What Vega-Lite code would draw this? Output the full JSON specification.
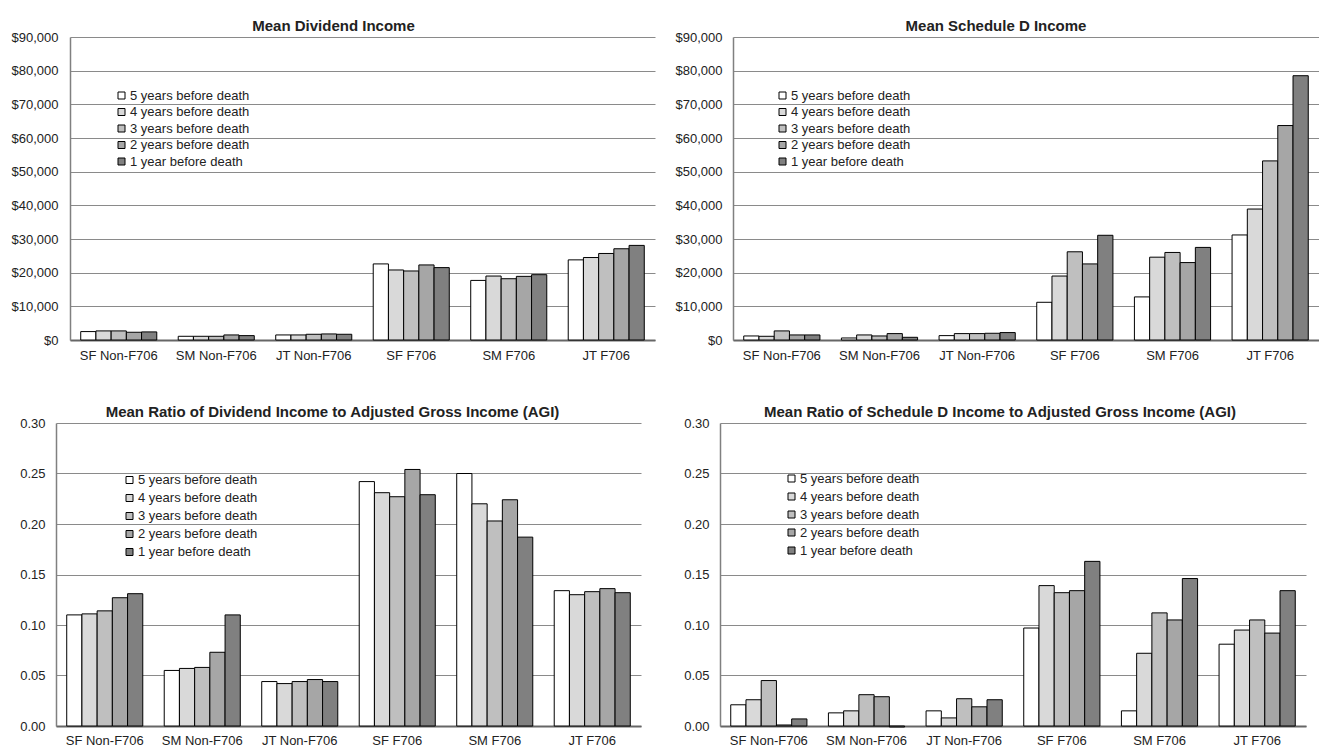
{
  "$schema": "https://vega.github.io/schema/vega-lite/v6.json",
  "padding": {"left": 0, "top": 19, "right": 0, "bottom": 0},
  "background": "white",
  "config": {
    "font": "Liberation Sans",
    "view": {"stroke": null},
    "title": {"font": "Liberation Sans", "fontSize": 15, "fontWeight": "bold", "color": "#222222", "offset": -3, "anchor": "middle"},
    "axis": {"labelFont": "Liberation Sans", "labelFontSize": 13, "labelColor": "#222222", "ticks": false, "title": null},
    "legend": {"labelFont": "Liberation Sans", "labelFontSize": 13, "labelColor": "#222222", "symbolType": "square", "symbolSize": 49, "symbolStrokeColor": "black", "symbolStrokeWidth": 1, "labelOffset": 2, "title": null, "orient": "none"}
  },
  "datasets": {
    "div": [
      {"c": "SF Non-F706", "y": "5 years before death", "v": 2500},
      {"c": "SF Non-F706", "y": "4 years before death", "v": 2700},
      {"c": "SF Non-F706", "y": "3 years before death", "v": 2700},
      {"c": "SF Non-F706", "y": "2 years before death", "v": 2300},
      {"c": "SF Non-F706", "y": "1 year before death", "v": 2400},
      {"c": "SM Non-F706", "y": "5 years before death", "v": 1100},
      {"c": "SM Non-F706", "y": "4 years before death", "v": 1100},
      {"c": "SM Non-F706", "y": "3 years before death", "v": 1100},
      {"c": "SM Non-F706", "y": "2 years before death", "v": 1500},
      {"c": "SM Non-F706", "y": "1 year before death", "v": 1300},
      {"c": "JT Non-F706", "y": "5 years before death", "v": 1500},
      {"c": "JT Non-F706", "y": "4 years before death", "v": 1500},
      {"c": "JT Non-F706", "y": "3 years before death", "v": 1700},
      {"c": "JT Non-F706", "y": "2 years before death", "v": 1800},
      {"c": "JT Non-F706", "y": "1 year before death", "v": 1700},
      {"c": "SF F706", "y": "5 years before death", "v": 22600},
      {"c": "SF F706", "y": "4 years before death", "v": 20800},
      {"c": "SF F706", "y": "3 years before death", "v": 20500},
      {"c": "SF F706", "y": "2 years before death", "v": 22300},
      {"c": "SF F706", "y": "1 year before death", "v": 21500},
      {"c": "SM F706", "y": "5 years before death", "v": 17700},
      {"c": "SM F706", "y": "4 years before death", "v": 19000},
      {"c": "SM F706", "y": "3 years before death", "v": 18200},
      {"c": "SM F706", "y": "2 years before death", "v": 18900},
      {"c": "SM F706", "y": "1 year before death", "v": 19400},
      {"c": "JT F706", "y": "5 years before death", "v": 23800},
      {"c": "JT F706", "y": "4 years before death", "v": 24500},
      {"c": "JT F706", "y": "3 years before death", "v": 25700},
      {"c": "JT F706", "y": "2 years before death", "v": 27100},
      {"c": "JT F706", "y": "1 year before death", "v": 28100}
    ],
    "schd": [
      {"c": "SF Non-F706", "y": "5 years before death", "v": 1200},
      {"c": "SF Non-F706", "y": "4 years before death", "v": 1100},
      {"c": "SF Non-F706", "y": "3 years before death", "v": 2700},
      {"c": "SF Non-F706", "y": "2 years before death", "v": 1500},
      {"c": "SF Non-F706", "y": "1 year before death", "v": 1500},
      {"c": "SM Non-F706", "y": "5 years before death", "v": 600},
      {"c": "SM Non-F706", "y": "4 years before death", "v": 1500},
      {"c": "SM Non-F706", "y": "3 years before death", "v": 1200},
      {"c": "SM Non-F706", "y": "2 years before death", "v": 1900},
      {"c": "SM Non-F706", "y": "1 year before death", "v": 800},
      {"c": "JT Non-F706", "y": "5 years before death", "v": 1300},
      {"c": "JT Non-F706", "y": "4 years before death", "v": 1900},
      {"c": "JT Non-F706", "y": "3 years before death", "v": 1900},
      {"c": "JT Non-F706", "y": "2 years before death", "v": 2000},
      {"c": "JT Non-F706", "y": "1 year before death", "v": 2200},
      {"c": "SF F706", "y": "5 years before death", "v": 11200},
      {"c": "SF F706", "y": "4 years before death", "v": 19000},
      {"c": "SF F706", "y": "3 years before death", "v": 26200},
      {"c": "SF F706", "y": "2 years before death", "v": 22600},
      {"c": "SF F706", "y": "1 year before death", "v": 31100},
      {"c": "SM F706", "y": "5 years before death", "v": 12800},
      {"c": "SM F706", "y": "4 years before death", "v": 24600},
      {"c": "SM F706", "y": "3 years before death", "v": 26000},
      {"c": "SM F706", "y": "2 years before death", "v": 23000},
      {"c": "SM F706", "y": "1 year before death", "v": 27500},
      {"c": "JT F706", "y": "5 years before death", "v": 31200},
      {"c": "JT F706", "y": "4 years before death", "v": 38900},
      {"c": "JT F706", "y": "3 years before death", "v": 53200},
      {"c": "JT F706", "y": "2 years before death", "v": 63700},
      {"c": "JT F706", "y": "1 year before death", "v": 78500}
    ],
    "divr": [
      {"c": "SF Non-F706", "y": "5 years before death", "v": 0.110},
      {"c": "SF Non-F706", "y": "4 years before death", "v": 0.111},
      {"c": "SF Non-F706", "y": "3 years before death", "v": 0.114},
      {"c": "SF Non-F706", "y": "2 years before death", "v": 0.127},
      {"c": "SF Non-F706", "y": "1 year before death", "v": 0.131},
      {"c": "SM Non-F706", "y": "5 years before death", "v": 0.055},
      {"c": "SM Non-F706", "y": "4 years before death", "v": 0.057},
      {"c": "SM Non-F706", "y": "3 years before death", "v": 0.058},
      {"c": "SM Non-F706", "y": "2 years before death", "v": 0.073},
      {"c": "SM Non-F706", "y": "1 year before death", "v": 0.110},
      {"c": "JT Non-F706", "y": "5 years before death", "v": 0.044},
      {"c": "JT Non-F706", "y": "4 years before death", "v": 0.042},
      {"c": "JT Non-F706", "y": "3 years before death", "v": 0.044},
      {"c": "JT Non-F706", "y": "2 years before death", "v": 0.046},
      {"c": "JT Non-F706", "y": "1 year before death", "v": 0.044},
      {"c": "SF F706", "y": "5 years before death", "v": 0.242},
      {"c": "SF F706", "y": "4 years before death", "v": 0.231},
      {"c": "SF F706", "y": "3 years before death", "v": 0.227},
      {"c": "SF F706", "y": "2 years before death", "v": 0.254},
      {"c": "SF F706", "y": "1 year before death", "v": 0.229},
      {"c": "SM F706", "y": "5 years before death", "v": 0.250},
      {"c": "SM F706", "y": "4 years before death", "v": 0.220},
      {"c": "SM F706", "y": "3 years before death", "v": 0.203},
      {"c": "SM F706", "y": "2 years before death", "v": 0.224},
      {"c": "SM F706", "y": "1 year before death", "v": 0.187},
      {"c": "JT F706", "y": "5 years before death", "v": 0.134},
      {"c": "JT F706", "y": "4 years before death", "v": 0.130},
      {"c": "JT F706", "y": "3 years before death", "v": 0.133},
      {"c": "JT F706", "y": "2 years before death", "v": 0.136},
      {"c": "JT F706", "y": "1 year before death", "v": 0.132}
    ],
    "schdr": [
      {"c": "SF Non-F706", "y": "5 years before death", "v": 0.021},
      {"c": "SF Non-F706", "y": "4 years before death", "v": 0.026},
      {"c": "SF Non-F706", "y": "3 years before death", "v": 0.045},
      {"c": "SF Non-F706", "y": "2 years before death", "v": 0.001},
      {"c": "SF Non-F706", "y": "1 year before death", "v": 0.007},
      {"c": "SM Non-F706", "y": "5 years before death", "v": 0.013},
      {"c": "SM Non-F706", "y": "4 years before death", "v": 0.015},
      {"c": "SM Non-F706", "y": "3 years before death", "v": 0.031},
      {"c": "SM Non-F706", "y": "2 years before death", "v": 0.029},
      {"c": "SM Non-F706", "y": "1 year before death", "v": -0.001},
      {"c": "JT Non-F706", "y": "5 years before death", "v": 0.015},
      {"c": "JT Non-F706", "y": "4 years before death", "v": 0.008},
      {"c": "JT Non-F706", "y": "3 years before death", "v": 0.027},
      {"c": "JT Non-F706", "y": "2 years before death", "v": 0.019},
      {"c": "JT Non-F706", "y": "1 year before death", "v": 0.026},
      {"c": "SF F706", "y": "5 years before death", "v": 0.097},
      {"c": "SF F706", "y": "4 years before death", "v": 0.139},
      {"c": "SF F706", "y": "3 years before death", "v": 0.132},
      {"c": "SF F706", "y": "2 years before death", "v": 0.134},
      {"c": "SF F706", "y": "1 year before death", "v": 0.163},
      {"c": "SM F706", "y": "5 years before death", "v": 0.015},
      {"c": "SM F706", "y": "4 years before death", "v": 0.072},
      {"c": "SM F706", "y": "3 years before death", "v": 0.112},
      {"c": "SM F706", "y": "2 years before death", "v": 0.105},
      {"c": "SM F706", "y": "1 year before death", "v": 0.146},
      {"c": "JT F706", "y": "5 years before death", "v": 0.081},
      {"c": "JT F706", "y": "4 years before death", "v": 0.095},
      {"c": "JT F706", "y": "3 years before death", "v": 0.105},
      {"c": "JT F706", "y": "2 years before death", "v": 0.092},
      {"c": "JT F706", "y": "1 year before death", "v": 0.134}
    ],
    "empty": []
  },
  "resolve": {"scale": {"x": "independent", "y": "independent", "color": "independent", "xOffset": "independent"}, "legend": {"color": "independent"}},
  "spacing": 43,
  "vconcat": [
    {
      "spacing": 10,
      "bounds": "flush",
      "resolve": {"scale": {"x": "independent", "y": "independent", "color": "independent", "xOffset": "independent"}, "legend": {"color": "independent"}},
      "hconcat": [
        {
          "width": 4, "height": 1,
          "data": {"name": "empty"},
          "mark": {"type": "rect"},
          "encoding": {}
        },
        {
          "spacing": 10,
          "resolve": {"scale": {"x": "independent", "y": "independent", "color": "independent", "xOffset": "independent"}, "legend": {"color": "independent"}},
          "hconcat": [
            {
              "width": 585, "height": 303,
              "title": {"text": "Mean Dividend Income", "dx": -29},
              "data": {"name": "div"},
              "mark": {"type": "bar", "stroke": "black", "strokeWidth": 1},
              "encoding": {
                "x": {"field": "c", "type": "nominal", "sort": ["SF Non-F706", "SM Non-F706", "JT Non-F706", "SF F706", "SM F706", "JT F706"], "scale": {"paddingInner": 0.22, "paddingOuter": 0.11}, "axis": {"labelAngle": 0, "labelPadding": 9, "domainColor": "#666666", "domainWidth": 2, "grid": false}},
                "xOffset": {"field": "y", "type": "nominal", "sort": ["5 years before death", "4 years before death", "3 years before death", "2 years before death", "1 year before death"], "scale": {"paddingInner": 0, "paddingOuter": 0}},
                "y": {"field": "v", "type": "quantitative", "scale": {"domain": [0, 90000], "nice": false}, "axis": {"values": [0, 10000, 20000, 30000, 40000, 50000, 60000, 70000, 80000, 90000], "format": "$,.0f", "minExtent": 70, "labelPadding": 12, "grid": true, "gridColor": "#8a8a8a", "gridWidth": 1, "domainColor": "#808080", "domainWidth": 1.5}},
                "color": {"field": "y", "type": "nominal", "sort": ["5 years before death", "4 years before death", "3 years before death", "2 years before death", "1 year before death"], "scale": {"domain": ["5 years before death", "4 years before death", "3 years before death", "2 years before death", "1 year before death"], "range": ["#ffffff", "#d9d9d9", "#bfbfbf", "#a6a6a6", "#808080"]}, "legend": {"legendX": 45, "legendY": 52, "rowPadding": 2.5}}
              }
            },
            {
              "width": 586, "height": 303,
              "title": {"text": "Mean Schedule D Income", "dx": -30},
              "data": {"name": "schd"},
              "mark": {"type": "bar", "stroke": "black", "strokeWidth": 1},
              "encoding": {
                "x": {"field": "c", "type": "nominal", "sort": ["SF Non-F706", "SM Non-F706", "JT Non-F706", "SF F706", "SM F706", "JT F706"], "scale": {"paddingInner": 0.22, "paddingOuter": 0.11}, "axis": {"labelAngle": 0, "labelPadding": 9, "domainColor": "#666666", "domainWidth": 2, "grid": false}},
                "xOffset": {"field": "y", "type": "nominal", "sort": ["5 years before death", "4 years before death", "3 years before death", "2 years before death", "1 year before death"], "scale": {"paddingInner": 0, "paddingOuter": 0}},
                "y": {"field": "v", "type": "quantitative", "scale": {"domain": [0, 90000], "nice": false}, "axis": {"values": [0, 10000, 20000, 30000, 40000, 50000, 60000, 70000, 80000, 90000], "format": "$,.0f", "minExtent": 68, "labelPadding": 11, "grid": true, "gridColor": "#8a8a8a", "gridWidth": 1, "domainColor": "#808080", "domainWidth": 1.5}},
                "color": {"field": "y", "type": "nominal", "sort": ["5 years before death", "4 years before death", "3 years before death", "2 years before death", "1 year before death"], "scale": {"domain": ["5 years before death", "4 years before death", "3 years before death", "2 years before death", "1 year before death"], "range": ["#ffffff", "#d9d9d9", "#bfbfbf", "#a6a6a6", "#808080"]}, "legend": {"legendX": 43, "legendY": 52, "rowPadding": 2.5}}
              }
            }
          ]
        }
      ]
    },
    {
      "spacing": 10,
      "resolve": {"scale": {"x": "independent", "y": "independent", "color": "independent", "xOffset": "independent"}, "legend": {"color": "independent"}},
      "hconcat": [
        {
          "width": 585, "height": 303,
          "title": {"text": "Mean Ratio of Dividend Income to Adjusted Gross Income (AGI)", "dx": -16},
          "data": {"name": "divr"},
          "mark": {"type": "bar", "stroke": "black", "strokeWidth": 1},
          "encoding": {
            "x": {"field": "c", "type": "nominal", "sort": ["SF Non-F706", "SM Non-F706", "JT Non-F706", "SF F706", "SM F706", "JT F706"], "scale": {"paddingInner": 0.22, "paddingOuter": 0.11}, "axis": {"labelAngle": 0, "labelPadding": 8, "domainColor": "#666666", "domainWidth": 2, "grid": false}},
            "xOffset": {"field": "y", "type": "nominal", "sort": ["5 years before death", "4 years before death", "3 years before death", "2 years before death", "1 year before death"], "scale": {"paddingInner": 0, "paddingOuter": 0}},
            "y": {"field": "v", "type": "quantitative", "scale": {"domain": [0, 0.3], "nice": false}, "axis": {"values": [0, 0.05, 0.1, 0.15, 0.2, 0.25, 0.3], "format": ".2f", "minExtent": 56, "labelPadding": 11, "grid": true, "gridColor": "#8a8a8a", "gridWidth": 1, "domainColor": "#808080", "domainWidth": 1.5}},
            "color": {"field": "y", "type": "nominal", "sort": ["5 years before death", "4 years before death", "3 years before death", "2 years before death", "1 year before death"], "scale": {"domain": ["5 years before death", "4 years before death", "3 years before death", "2 years before death", "1 year before death"], "range": ["#ffffff", "#d9d9d9", "#bfbfbf", "#a6a6a6", "#808080"]}, "legend": {"legendX": 67, "legendY": 50.5, "rowPadding": 4}}
          }
        },
        {
          "width": 586, "height": 303,
          "title": {"text": "Mean Ratio of Schedule D Income to Adjusted Gross Income (AGI)", "dx": -13},
          "data": {"name": "schdr"},
          "mark": {"type": "bar", "stroke": "black", "strokeWidth": 1},
          "encoding": {
            "x": {"field": "c", "type": "nominal", "sort": ["SF Non-F706", "SM Non-F706", "JT Non-F706", "SF F706", "SM F706", "JT F706"], "scale": {"paddingInner": 0.22, "paddingOuter": 0.11}, "axis": {"labelAngle": 0, "labelPadding": 8, "domainColor": "#666666", "domainWidth": 2, "grid": false}},
            "xOffset": {"field": "y", "type": "nominal", "sort": ["5 years before death", "4 years before death", "3 years before death", "2 years before death", "1 year before death"], "scale": {"paddingInner": 0, "paddingOuter": 0}},
            "y": {"field": "v", "type": "quantitative", "scale": {"domain": [0, 0.3], "nice": false}, "axis": {"values": [0, 0.05, 0.1, 0.15, 0.2, 0.25, 0.3], "format": ".2f", "minExtent": 69, "labelPadding": 11, "grid": true, "gridColor": "#8a8a8a", "gridWidth": 1, "domainColor": "#808080", "domainWidth": 1.5}},
            "color": {"field": "y", "type": "nominal", "sort": ["5 years before death", "4 years before death", "3 years before death", "2 years before death", "1 year before death"], "scale": {"domain": ["5 years before death", "4 years before death", "3 years before death", "2 years before death", "1 year before death"], "range": ["#ffffff", "#d9d9d9", "#bfbfbf", "#a6a6a6", "#808080"]}, "legend": {"legendX": 65, "legendY": 49, "rowPadding": 4}}
          }
        }
      ]
    }
  ]
}
